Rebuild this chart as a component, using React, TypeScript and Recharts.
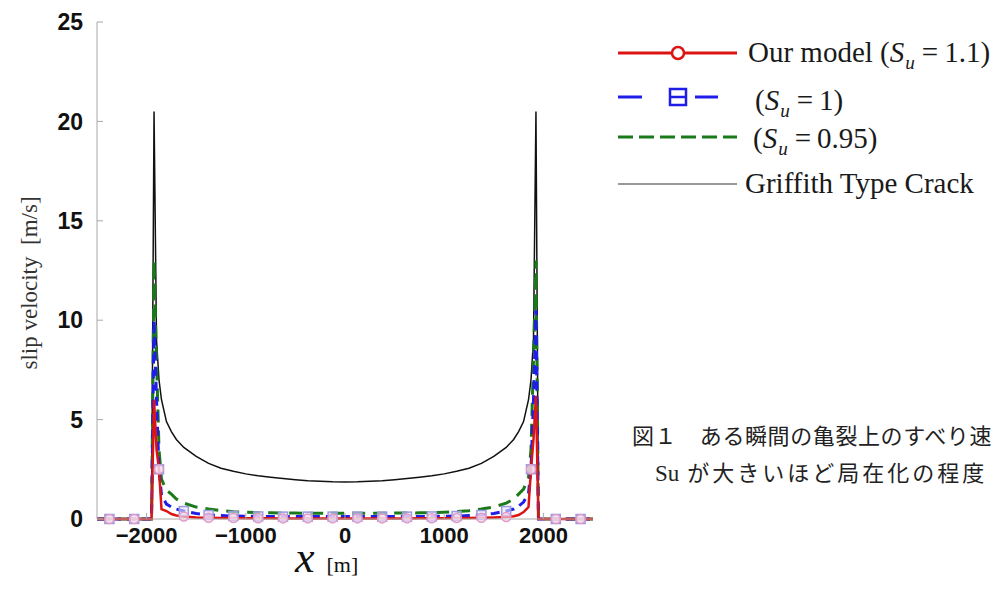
import React from 'react';
import { LineChart, Line, XAxis, YAxis } from 'recharts';

const xValues = [-2500, -2375, -2250, -2125, -2000, -1950, -1925, -1900, -1875, -1850, -1800, -1750, -1700, -1625, -1500, -1375, -1250, -1125, -1000, -875, -750, -625, -500, -375, -250, -125, 0, 125, 250, 375, 500, 625, 750, 875, 1000, 1125, 1250, 1375, 1500, 1625, 1700, 1750, 1800, 1850, 1875, 1900, 1925, 1950, 2000, 2125, 2250, 2375, 2500];

const griffith = [0, 0, 0, 0, 0, 0, 20.5, 9.0, 7.0, 6.0, 4.9, 4.4, 4.0, 3.6, 3.15, 2.8, 2.55, 2.4, 2.27, 2.17, 2.1, 2.04, 1.98, 1.93, 1.9, 1.87, 1.86, 1.87, 1.9, 1.93, 1.98, 2.04, 2.1, 2.17, 2.27, 2.4, 2.55, 2.8, 3.15, 3.6, 4.0, 4.4, 4.9, 6.0, 7.0, 9.0, 20.5, 0, 0, 0, 0, 0, 0];
const su110 = [0, 0, 0, 0, 0, 0, 6.0, 3.5, 2.5, 0.5, 0.4, 0.25, 0.18, 0.12, 0.08, 0.06, 0.05, 0.05, 0.04, 0.04, 0.04, 0.03, 0.03, 0.03, 0.03, 0.03, 0.03, 0.03, 0.03, 0.03, 0.03, 0.03, 0.04, 0.04, 0.04, 0.05, 0.05, 0.06, 0.08, 0.1, 0.14, 0.2, 0.35, 0.6, 2.5, 4.0, 6.2, 0, 0, 0, 0, 0, 0];
const su100 = [0, 0, 0, 0, 0, 0, 10.0, 6.0, 2.5, 1.2, 0.75, 0.6, 0.5, 0.4, 0.28, 0.2, 0.17, 0.15, 0.14, 0.13, 0.13, 0.12, 0.12, 0.12, 0.12, 0.12, 0.12, 0.12, 0.12, 0.12, 0.12, 0.12, 0.13, 0.13, 0.14, 0.15, 0.17, 0.2, 0.28, 0.4, 0.5, 0.65, 0.85, 1.3, 2.5, 6.0, 10.5, 0, 0, 0, 0, 0, 0];
const su095 = [0, 0, 0, 0, 0, 0, 13.0, 8.0, 3.5, 2.0, 1.45, 1.25, 1.0, 0.8, 0.6, 0.5, 0.42, 0.37, 0.34, 0.32, 0.31, 0.3, 0.3, 0.29, 0.29, 0.29, 0.29, 0.29, 0.29, 0.29, 0.3, 0.3, 0.31, 0.32, 0.34, 0.37, 0.42, 0.5, 0.6, 0.8, 1.0, 1.25, 1.5, 2.1, 3.5, 8.0, 13.0, 0, 0, 0, 0, 0, 0];

const markerX = [-2375, -2125, -1875, -1625, -1375, -1125, -875, -625, -375, -125, 125, 375, 625, 875, 1125, 1375, 1625, 1875, 2125, 2375];
const xTicks = [-2000, -1000, 0, 1000, 2000];
const yTicks = [0, 5, 10, 15, 20, 25];

const data = xValues.map((x, i) => ({ x, griffith: griffith[i], su110: su110[i], su100: su100[i], su095: su095[i] }));

const RED = '#dc1414';
const BLUE = '#1e1ee8';
const GREEN = '#1a7a1a';
const FRAME = '#a8a8a8';

const circleDot = (props: any) => {
  const { cx, cy, payload, index } = props;
  if (!markerX.includes(payload.x)) return <g key={`c${index}`} />;
  return <circle key={`c${index}`} cx={cx} cy={cy} r={4.5} fill="#f3dcec" fillOpacity={0.6} stroke="#e39ac6" strokeWidth={1.5} />;
};
const squareDot = (props: any) => {
  const { cx, cy, payload, index } = props;
  if (!markerX.includes(payload.x)) return <g key={`s${index}`} />;
  return <rect key={`s${index}`} x={cx - 4.5} y={cy - 4.5} width={9} height={9} fill="#e4e4f8" fillOpacity={0.6} stroke="#9a9ae2" strokeWidth={1.5} />;
};

const fmt = (v: number) => String(v).replace('-', '\u2212');

const xTickStyle = { fill: '#111', fontSize: 22, fontWeight: 'bold', fontFamily: 'Liberation Sans, Arial, sans-serif' };
const yTickStyle = { fill: '#111', fontSize: 23, fontWeight: 'bold', fontFamily: 'Liberation Sans, Arial, sans-serif' };
const serif = 'Liberation Serif, Times New Roman, serif';

const Su = ({ v }: { v: string }) => (
  <span>
    (<i>S</i>
    <i style={{ fontSize: '0.66em', position: 'relative', top: '0.36em', marginLeft: 1 }}>u</i>
    <span style={{ margin: '0 6px 0 7px' }}>=</span>
    {v})
  </span>
);

export default function App() {
  return (
    <div style={{ position: 'absolute', left: 0, top: 0, width: 1001, height: 596, overflow: 'hidden', background: '#fff' }}>
      <div style={{ position: 'absolute', left: 0, top: 0 }}>
        <LineChart width={1001} height={596} data={data} margin={{ top: 22, right: 408, bottom: 47, left: 37 }}>
          <XAxis
            dataKey="x"
            type="number"
            domain={[-2500, 2500]}
            ticks={xTicks}
            tickFormatter={fmt}
            height={30}
            tickSize={-6}
            tickMargin={14}
            tick={xTickStyle}
            axisLine={{ stroke: FRAME }}
            tickLine={{ stroke: FRAME }}
          />
          <XAxis
            xAxisId="top"
            orientation="top"
            type="number"
            domain={[-2500, 2500]}
            ticks={xTicks}
            height={0}
            tick={false}
            tickSize={-7}
            axisLine={{ stroke: FRAME }}
            tickLine={{ stroke: FRAME }}
          />
          <YAxis
            type="number"
            domain={[0, 25]}
            ticks={yTicks}
            width={60}
            tickSize={-6}
            tickMargin={20}
            tick={yTickStyle}
            axisLine={{ stroke: FRAME }}
            tickLine={{ stroke: FRAME }}
          />
          <YAxis
            yAxisId="right"
            orientation="right"
            type="number"
            domain={[0, 25]}
            ticks={yTicks}
            width={0}
            tick={false}
            tickSize={-6}
            axisLine={{ stroke: FRAME }}
            tickLine={{ stroke: FRAME }}
          />
          <Line dataKey="griffith" type="linear" stroke="#111" strokeWidth={1.5} dot={false} isAnimationActive={false} />
          <Line dataKey="su095" type="linear" stroke={GREEN} strokeWidth={3} strokeDasharray="13 8" dot={false} isAnimationActive={false} />
          <Line dataKey="su100" type="linear" stroke={BLUE} strokeWidth={3} strokeDasharray="9 6" dot={squareDot} isAnimationActive={false} />
          <Line dataKey="su110" type="linear" stroke={RED} strokeWidth={2.5} dot={circleDot} isAnimationActive={false} />
        </LineChart>
      </div>

      {/* legend samples */}
      <svg width={1001} height={596} style={{ position: 'absolute', left: 0, top: 0, pointerEvents: 'none' }}>
        <line x1={618} y1={53} x2={737} y2={53} stroke={RED} strokeWidth={3} />
        <circle cx={678} cy={53} r={6} fill="#fff" stroke={RED} strokeWidth={2.5} />
        <line x1={618} y1={97} x2={642} y2={97} stroke={BLUE} strokeWidth={3} />
        <rect x={670} y={89} width={16} height={16} fill="#fff" stroke={BLUE} strokeWidth={2.5} />
        <line x1={670} y1={97} x2={686} y2={97} stroke={BLUE} strokeWidth={2.5} />
        <line x1={695} y1={97} x2={718} y2={97} stroke={BLUE} strokeWidth={3} />
        <line x1={618} y1={137} x2={737} y2={137} stroke={GREEN} strokeWidth={3} strokeDasharray="15 6" />
        <line x1={618} y1={184} x2={737} y2={184} stroke="#999" strokeWidth={2} />
      </svg>

      <div style={{ position: 'absolute', left: 748, top: 35, fontFamily: serif, fontSize: 29, lineHeight: '34px', color: '#1a1a1a', whiteSpace: 'nowrap' }}>
        Our model <Su v="1.1" />
      </div>
      <div style={{ position: 'absolute', left: 755, top: 83, fontFamily: serif, fontSize: 29, lineHeight: '34px', color: '#1a1a1a', whiteSpace: 'nowrap' }}>
        <Su v="1" />
      </div>
      <div style={{ position: 'absolute', left: 753, top: 121, fontFamily: serif, fontSize: 29, lineHeight: '34px', color: '#1a1a1a', whiteSpace: 'nowrap' }}>
        <Su v="0.95" />
      </div>
      <div style={{ position: 'absolute', left: 745, top: 166, fontFamily: serif, fontSize: 29, lineHeight: '34px', color: '#1a1a1a', whiteSpace: 'nowrap' }}>
        Griffith Type Crack
      </div>

      {/* caption */}
      <div style={{ position: 'absolute', left: 632, top: 419, fontFamily: 'Noto Sans CJK JP, sans-serif', fontSize: 22, lineHeight: '30px', letterSpacing: 0.6, color: '#222', whiteSpace: 'nowrap' }}>
        図１　ある瞬間の亀裂上のすべり速
      </div>
      <div style={{ position: 'absolute', left: 655, top: 456, fontFamily: 'Noto Sans CJK JP, sans-serif', fontSize: 22, lineHeight: '30px', letterSpacing: 3, color: '#222', whiteSpace: 'nowrap' }}>
        <span style={{ fontFamily: serif, fontSize: 23, letterSpacing: 0 }}>Su</span> が大きいほど局在化の程度
      </div>

      {/* axis titles */}
      <div style={{ position: 'absolute', left: 30, top: 283, transform: 'translate(-50%, -50%) rotate(-90deg)', fontFamily: serif, fontSize: 23, color: '#333', whiteSpace: 'pre' }}>
        slip velocity  [m/s]
      </div>
      <div style={{ position: 'absolute', left: 295, top: 536, fontFamily: serif, color: '#111', whiteSpace: 'nowrap', lineHeight: '44px' }}>
        <i style={{ fontSize: 44 }}>x</i>
        <span style={{ fontSize: 22, marginLeft: 12 }}>[m]</span>
      </div>
    </div>
  );
}
